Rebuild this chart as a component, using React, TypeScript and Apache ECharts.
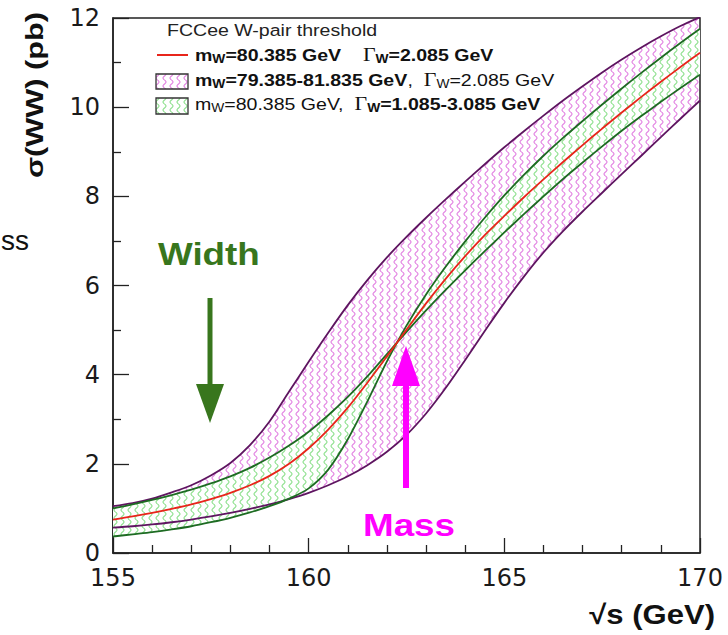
import React, { useEffect, useRef } from "react";
import * as echarts from "echarts";

// sqrt(s) sampling points (GeV)
const sqrtS = [
  155, 155.5, 156, 156.5, 157, 157.5, 158, 158.5, 159, 159.5, 160, 160.5, 161, 161.5, 162,
  162.5, 163, 163.5, 164, 164.5, 165, 165.5, 166, 166.5, 167, 167.5, 168, 168.5, 169, 169.5, 170,
];
// central: mW=80.385, ΓW=2.085 (red)
const sigmaCentral = [
  0.75, 0.82, 0.9, 0.99, 1.09, 1.21, 1.35, 1.52, 1.73, 2.0, 2.35, 2.77, 3.26, 3.82, 4.41,
  5.01, 5.6, 6.15, 6.66, 7.13, 7.56, 7.98, 8.38, 8.77, 9.15, 9.52, 9.88, 10.23, 10.57, 10.9, 11.22,
];
// mW=79.385 (upper purple)
const sigmaMassLow = [
  1.05, 1.12, 1.22, 1.36, 1.52, 1.74, 2.02, 2.42, 2.95, 3.62, 4.29, 4.94, 5.56, 6.12, 6.63,
  7.09, 7.52, 7.93, 8.33, 8.72, 9.1, 9.46, 9.81, 10.15, 10.47, 10.78, 11.07, 11.34, 11.59, 11.82, 12.02,
];
// mW=81.835 (lower purple)
const sigmaMassHigh = [
  0.57, 0.6, 0.64, 0.69, 0.75, 0.82, 0.9, 0.99, 1.09, 1.21, 1.35, 1.52, 1.72, 1.97, 2.27,
  2.65, 3.13, 3.7, 4.33, 4.98, 5.61, 6.2, 6.74, 7.22, 7.66, 8.08, 8.5, 8.91, 9.33, 9.74, 10.15,
];
// ΓW=3.085 (green)
const sigmaWidthHigh = [
  1.0, 1.09, 1.19, 1.3, 1.42, 1.56, 1.72, 1.91, 2.14, 2.41, 2.72, 3.09, 3.5, 3.96, 4.46,
  4.96, 5.44, 5.9, 6.34, 6.77, 7.19, 7.6, 8.0, 8.39, 8.76, 9.12, 9.47, 9.8, 10.12, 10.43, 10.73,
];
// ΓW=1.085 (green)
const sigmaWidthLow = [
  0.37, 0.42, 0.47, 0.53, 0.6, 0.69, 0.79, 0.91, 1.05, 1.22, 1.45, 1.87, 2.55, 3.4, 4.3,
  5.1, 5.8, 6.42, 6.99, 7.52, 8.02, 8.48, 8.91, 9.31, 9.69, 10.06, 10.42, 10.77, 11.11, 11.44, 11.76,
];

const xRange = { min: 155, max: 170, step: 5 };
const yRange = { min: 0, max: 12, step: 2 };

const PURPLE = "#5e1560";
const DGREEN = "#1d6b22";
const RED = "#e8251b";
const ARROW_GREEN = "#38761d";
const MAGENTA = "#ff00ff";

function wavePattern(color: string, bg: string | null): any {
  const c = document.createElement("canvas");
  c.width = 7;
  c.height = 8;
  const ctx = c.getContext("2d")!;
  if (bg) {
    ctx.fillStyle = bg;
    ctx.fillRect(0, 0, 7, 8);
  }
  ctx.strokeStyle = color;
  ctx.lineWidth = 1.1;
  ctx.beginPath();
  for (let i = 0; i <= 16; i++) {
    const y = i * 0.5;
    const x = 3.5 + 1.5 * Math.sin((2 * Math.PI * y) / 8);
    if (i === 0) ctx.moveTo(x, y);
    else ctx.lineTo(x, y);
  }
  ctx.stroke();
  return { image: c, repeat: "repeat", imageWidth: 7, imageHeight: 8 };
}

export default function App() {
  const ref = useRef<HTMLDivElement>(null);
  useEffect(() => {
    document.body.style.margin = "0";
    const chart = echarts.init(ref.current!, null, { renderer: "svg", width: 728, height: 635 });
    const pinkPat = wavePattern("#e283e2", null);
    const greenPat = wavePattern("#8ee08e", "#ffffff");
    const pinkPatL = wavePattern("#e283e2", "#ffffff");

    const massTop = sigmaMassLow;
    const massBot = sigmaMassHigh;
    const widthTop = sqrtS.map((_, i) => Math.max(sigmaWidthHigh[i], sigmaWidthLow[i]));
    const widthBot = sqrtS.map((_, i) => Math.min(sigmaWidthHigh[i], sigmaWidthLow[i]));

    const band = (top: number[], bot: number[], fill: any, z: number) => ({
      type: "custom",
      coordinateSystem: "cartesian2d",
      silent: true,
      z,
      data: [[sqrtS[0], bot[0]]],
      renderItem: (_p: any, api: any) => {
        const up = sqrtS.map((s, i) => api.coord([s, top[i]]));
        const dn = sqrtS.map((s, i) => api.coord([s, bot[i]])).reverse();
        return {
          type: "polygon",
          shape: { points: up.concat(dn) },
          style: { fill, stroke: "none" },
        };
      },
    });

    const line = (vals: number[], color: string, z: number) => ({
      type: "line",
      data: sqrtS.map((s, i) => [s, vals[i]]),
      smooth: 0.3,
      symbol: "none",
      silent: true,
      z,
      lineStyle: { color, width: 1.8 },
    });

    const sans = '"Liberation Sans", Arial, sans-serif';
    const rich = {
      b: { fontFamily: sans, fontWeight: "bold", fontSize: 17, lineHeight: 20, fill: "#111" },
      bs: { fontFamily: sans, fontWeight: "bold", fontSize: 12, lineHeight: 7, verticalAlign: "bottom", fill: "#111" },
      n: { fontFamily: sans, fontSize: 17, lineHeight: 20, fill: "#111" },
      ns: { fontFamily: sans, fontSize: 12, lineHeight: 7, verticalAlign: "bottom", fill: "#111" },
      g: { fontFamily: '"Liberation Serif", serif', fontSize: 19, lineHeight: 20, fill: "#111" },
    };

    chart.setOption({
      animation: false,
      backgroundColor: "#ffffff",
      grid: {
        left: 113,
        right: 28,
        top: 18,
        bottom: 82,
        show: true,
        borderColor: "#222",
        borderWidth: 1.5,
        backgroundColor: "transparent",
      },
      xAxis: {
        type: "value",
        min: xRange.min,
        max: xRange.max,
        interval: xRange.step,
        axisLine: { show: true, lineStyle: { color: "#222", width: 1.5 } },
        axisTick: { show: true, inside: true, length: 15, lineStyle: { color: "#222", width: 1.3 } },
        minorTick: { show: true, splitNumber: 5, length: 8, lineStyle: { color: "#222", width: 1.3 } },
        axisLabel: { fontSize: 24, fontFamily: '"DejaVu Sans", sans-serif', color: "#1a1a1a", margin: 13 },
        splitLine: { show: false },
      },
      yAxis: {
        type: "value",
        min: yRange.min,
        max: yRange.max,
        interval: yRange.step,
        axisLine: { show: true, lineStyle: { color: "#222", width: 1.5 } },
        axisTick: { show: true, inside: true, length: 16, lineStyle: { color: "#222", width: 1.3 } },
        minorTick: { show: true, splitNumber: 2, length: 8, lineStyle: { color: "#222", width: 1.3 } },
        axisLabel: { fontSize: 24, fontFamily: '"DejaVu Sans", sans-serif', color: "#1a1a1a", margin: 13 },
        splitLine: { show: false },
      },
      series: [
        band(massTop, massBot, pinkPat, 2),
        band(widthTop, widthBot, greenPat, 3),
        line(sigmaMassLow, PURPLE, 5),
        line(sigmaMassHigh, PURPLE, 5),
        line(sigmaWidthHigh, DGREEN, 6),
        line(sigmaWidthLow, DGREEN, 6),
        line(sigmaCentral, RED, 7),
      ],
      graphic: [
        // legend
        { type: "text", x: 167, y: 30, scaleX: 1.15, z: 100,
          style: { text: "FCCee W-pair threshold", font: `17px ${sans}`, fill: "#222", verticalAlign: "middle" } },
        { type: "line", z: 100, shape: { x1: 157, y1: 55, x2: 188, y2: 55 }, style: { stroke: RED, lineWidth: 2 } },
        { type: "text", x: 195, y: 55, scaleX: 1.15, z: 100,
          style: { text: "{b|m}{bs|W}{b|=80.385 GeV}{n|    }{g|Γ}{bs|W}{b|=2.085 GeV}", rich, verticalAlign: "middle" } },
        { type: "rect", z: 100, shape: { x: 156, y: 74, width: 32, height: 15 }, style: { fill: pinkPatL, stroke: "#333", lineWidth: 1.3 } },
        { type: "text", x: 195, y: 80, scaleX: 1.15, z: 100,
          style: { text: "{b|m}{bs|W}{b|=79.385-81.835 GeV}{n|,  }{g|Γ}{ns|W}{n|=2.085 GeV}", rich, verticalAlign: "middle" } },
        { type: "rect", z: 100, shape: { x: 156, y: 98, width: 32, height: 16 }, style: { fill: greenPat, stroke: "#333", lineWidth: 1.3 } },
        { type: "text", x: 195, y: 104, scaleX: 1.15, z: 100,
          style: { text: "{n|m}{ns|W}{n|=80.385 GeV,  }{g|Γ}{bs|W}{b|=1.085-3.085 GeV}", rich, verticalAlign: "middle" } },
        // annotations
        { type: "text", x: 158, y: 254, scaleX: 1.15, z: 100,
          style: { text: "Width", font: `bold 32px ${sans}`, fill: ARROW_GREEN, verticalAlign: "middle" } },
        { type: "rect", z: 100, shape: { x: 207.5, y: 298, width: 5, height: 90 }, style: { fill: ARROW_GREEN } },
        { type: "polygon", z: 100, shape: { points: [[196, 384], [224, 384], [210, 423]] }, style: { fill: ARROW_GREEN } },
        { type: "text", x: 363, y: 525, scaleX: 1.15, z: 100,
          style: { text: "Mass", font: `bold 32px ${sans}`, fill: MAGENTA, verticalAlign: "middle" } },
        { type: "rect", z: 100, shape: { x: 403, y: 380, width: 6, height: 108 }, style: { fill: MAGENTA } },
        { type: "polygon", z: 100, shape: { points: [[392, 386], [420, 386], [406, 346]] }, style: { fill: MAGENTA } },
        // axis titles
        { type: "text", x: 35, y: 95, rotation: Math.PI / 2, scaleX: 1.28, z: 100,
          style: { text: "σ(WW) (pb)", font: `bold 24px ${sans}`, fill: "#111", align: "center", verticalAlign: "middle" } },
        { type: "text", x: 715, y: 615, scaleX: 1.15, z: 100,
          style: { text: "√s (GeV)", font: `bold 27px ${sans}`, fill: "#111", align: "right", verticalAlign: "middle" } },
        { type: "text", x: 1, y: 240, z: 100,
          style: { text: "ss", font: `28px ${sans}`, fill: "#111", align: "left", verticalAlign: "middle" } },
      ],
    });
    return () => chart.dispose();
  }, []);
  return <div ref={ref} style={{ width: 728, height: 635 }} />;
}
